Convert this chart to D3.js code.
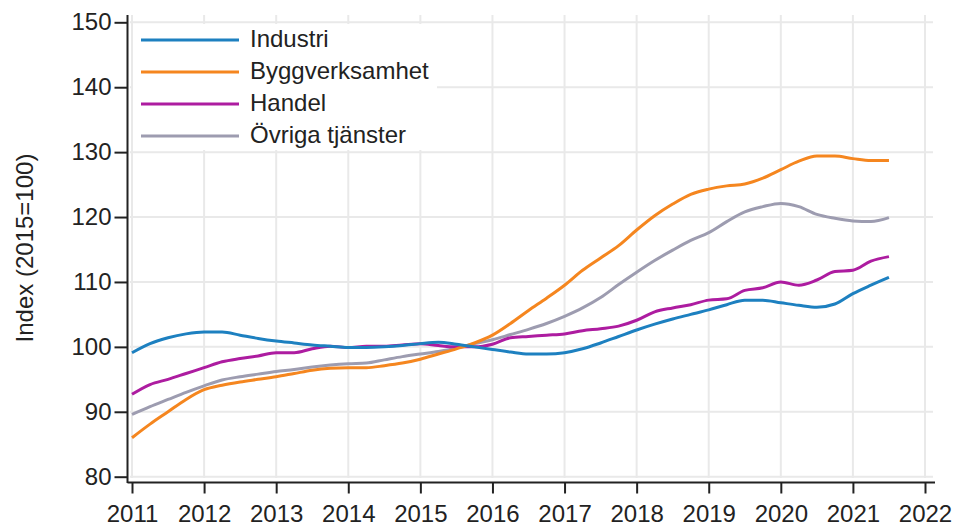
<!DOCTYPE html>
<html>
<head>
<meta charset="utf-8">
<script src="https://cdn.jsdelivr.net/npm/d3@7"></script>
<style>
  body { margin: 0; background: #fff; }
  svg text { font-family: "Liberation Sans", Arial, sans-serif; fill: #222; }
</style>
</head>
<body>
<svg id="chart" width="955" height="527"></svg>
<script>
// quarterly points, 2011 Q1 .. 2021 mid-year
var quarters = d3.range(0, 43).map(function (i) { return 2011 + i * 0.25; });

var industri = [
  99.1, 100.5, 101.4, 102.0, 102.3, 102.3, 101.8, 101.3, 100.9, 100.6,
  100.3, 100.1, 99.9, 99.9, 100.0, 100.2, 100.5, 100.7, 100.4, 100.0,
  99.6, 99.2, 98.9, 98.9, 99.1, 99.7, 100.6, 101.6, 102.6, 103.5,
  104.3, 105.0, 105.7, 106.5, 107.2, 107.2, 106.8, 106.4, 106.1, 106.6,
  108.2, 109.5, 110.7
];
var bygg = [
  86.0, 88.1, 90.0, 91.9, 93.4, 94.1, 94.6, 95.0, 95.4, 95.9,
  96.4, 96.7, 96.8, 96.8, 97.1, 97.5, 98.1, 98.9, 99.7, 100.6,
  101.8, 103.6, 105.6, 107.5, 109.5, 111.8, 113.7, 115.6, 118.0, 120.2,
  122.0, 123.5, 124.3, 124.8, 125.1, 126.0, 127.3, 128.6, 129.4, 129.4,
  129.0, 128.7, 128.7
];
var handel = [
  92.7, 94.2, 95.0, 95.9, 96.8, 97.7, 98.2, 98.6, 99.1, 99.1,
  99.7, 100.1, 99.9, 100.1, 100.1, 100.3, 100.5, 100.2, 100.0, 100.0,
  100.4, 101.4, 101.6, 101.8, 102.0, 102.5, 102.8, 103.2, 104.1, 105.4,
  106.0, 106.5, 107.2, 107.4, 108.7, 109.1, 110.0, 109.5, 110.3, 111.6,
  111.8, 113.2, 113.9
];
var ovriga = [
  89.6, 90.8, 91.9, 93.0, 94.0, 94.9, 95.4, 95.8, 96.2, 96.5,
  96.9, 97.2, 97.4, 97.5, 98.0, 98.5, 98.9, 99.3, 99.8, 100.5,
  101.1, 101.9, 102.7, 103.6, 104.7, 106.0, 107.6, 109.6, 111.5, 113.3,
  114.9, 116.4, 117.6, 119.3, 120.8, 121.6, 122.1, 121.6, 120.4, 119.8,
  119.4, 119.3, 119.9
];

var seriesNames = ["Industri", "Byggverksamhet", "Handel", "Övriga tjänster"];
var seriesColors = ["#1d80c0", "#f5861f", "#ad1ca0", "#9d9cb0"];
var xTicks = d3.range(2011, 2023);
var yTicks = [80, 90, 100, 110, 120, 130, 140, 150];
var yLabel = "Index (2015=100)";

var svg = d3.select("#chart");

var x = d3.scaleLinear().domain([2011, 2022]).range([132, 925]);
var y = d3.scaleLinear().domain([80, 150]).range([476.7, 22.3]);

//
// grid
//
var grid = svg.append("g").attr("class", "grid");
grid.selectAll(".hgrid").data(yTicks).enter().append("line")
  .attr("x1", 130).attr("x2", 933)
  .attr("y1", function (d) { return y(d); })
  .attr("y2", function (d) { return y(d); })
  .attr("stroke", "#e9e9e9").attr("stroke-width", 2);
grid.selectAll(".vgrid").data(xTicks).enter().append("line")
  .attr("x1", function (d) { return x(d); })
  .attr("x2", function (d) { return x(d); })
  .attr("y1", 15).attr("y2", 478)
  .attr("stroke", "#e9e9e9").attr("stroke-width", 2);

//
// lines
//
var line = d3.line()
  .x(function (d) { return x(d[0]); })
  .y(function (d) { return y(d[1]); })
  .curve(d3.curveMonotoneX);

var allSeries = [industri, bygg, handel, ovriga];
// draw back to front so the first series sits on top
allSeries.slice().reverse().forEach(function (vals, j) {
  var i = allSeries.length - 1 - j;
  svg.append("path")
    .datum(d3.zip(quarters, vals))
    .attr("fill", "none")
    .attr("stroke", seriesColors[i])
    .attr("stroke-width", 3)
    .attr("stroke-linejoin", "round")
    .attr("d", line);
});

//
// axes
//
var yAxis = d3.axisLeft(y).tickValues(yTicks).tickSize(13).tickPadding(3);
var gy = svg.append("g").attr("transform", "translate(127.5,0)").call(yAxis);
var xAxis = d3.axisBottom(x).tickValues(xTicks).tickSize(11).tickPadding(11)
  .tickFormat(d3.format("d"));
var gx = svg.append("g").attr("transform", "translate(0,482.5)").call(xAxis);

[gx, gy].forEach(function (g) {
  g.select(".domain").attr("stroke", "#222").attr("stroke-width", 2);
  g.selectAll(".tick line").attr("stroke", "#222").attr("stroke-width", 2);
  g.selectAll(".tick text")
    .attr("font-family", "Liberation Sans, Arial, sans-serif")
    .attr("font-size", 24).attr("fill", "#222");
});
// stretch the axis lines like the original
gy.select(".domain").attr("d", "M0,15V483");
gx.select(".domain").attr("d", "M127.5,0H935");

svg.append("text")
  .attr("transform", "translate(33,248) rotate(-90)")
  .attr("text-anchor", "middle")
  .attr("font-size", 24)
  .text(yLabel);

//
// legend
//
var legend = svg.append("g").attr("class", "legend");
legend.append("rect")
  .attr("x", 133).attr("y", 24).attr("width", 304).attr("height", 126)
  .attr("fill", "#fff");
var item = legend.selectAll(".item").data(seriesNames).enter().append("g")
  .attr("transform", function (d, i) { return "translate(0," + (40 + i * 32) + ")"; });
item.append("line")
  .attr("x1", 141).attr("x2", 239)
  .attr("stroke", function (d, i) { return seriesColors[i]; })
  .attr("stroke-width", 3);
item.append("text")
  .attr("x", 250).attr("y", 7)
  .attr("font-size", 24)
  .text(function (d) { return d; });
</script>
</body>
</html>
